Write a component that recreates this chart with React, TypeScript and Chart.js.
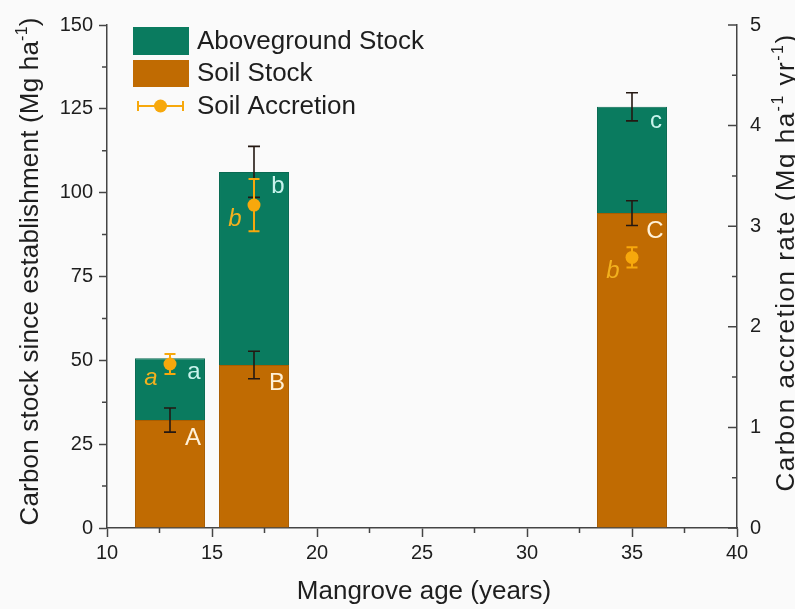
import React, { useEffect, useRef } from "react";
import { Chart, registerables } from "chart.js";

Chart.register(...registerables);

// ---------- data ----------
const ages = [13, 17, 35];
const soilStock = [32.2, 48.6, 93.9];
const soilStockErr = [3.6, 4.1, 3.7];
const abovegroundStock = [18.4, 57.6, 31.7];
const totalStockErr: (number | null)[] = [null, 7.6, 4.2];
const soilAccretion = [1.63, 3.21, 2.69];
const soilAccretionErr = [0.1, 0.26, 0.1];
const soilLetters = ["A", "B", "C"];
const abovegroundLetters = ["a", "b", "c"];
const accretionLetters = ["a", "b", "b"];
const legendLabels = ["Aboveground Stock", "Soil Stock", "Soil Accretion"];
const xTitle = [{ t: "Mangrove age (years)" }];
const yTitle = [{ t: "Carbon stock since establishment (Mg ha" }, { t: "-1", sup: true }, { t: ")" }];
const y1Title = [
  { t: "Carbon accretion rate (Mg ha" },
  { t: "-1", sup: true },
  { t: " yr" },
  { t: "-1", sup: true },
  { t: ")" },
];

// ---------- style ----------
const GREEN = "#0a7b5f";
const BROWN = "#c06b02";
const ORANGE = "#f7a80c";
const AXIS = "#444444";
const TEXT = "#1e1e1e";
const FONT = "'Liberation Sans', Arial, Helvetica, sans-serif";

type Part = { t: string; sup?: boolean };

function drawRich(
  ctx: CanvasRenderingContext2D,
  parts: Part[],
  x: number,
  y: number,
  rot: number,
  size: number,
  spacing = 0
) {
  ctx.save();
  ctx.translate(x, y);
  ctx.rotate(rot);
  ctx.fillStyle = TEXT;
  ctx.textBaseline = "alphabetic";
  ctx.textAlign = "left";
  (ctx as any).letterSpacing = `${spacing}px`;
  const supSize = Math.round(size * 0.62);
  let total = 0;
  const widths = parts.map((p) => {
    ctx.font = `${p.sup ? supSize : size}px ${FONT}`;
    const w = ctx.measureText(p.t).width;
    total += w;
    return w;
  });
  let cx = -total / 2;
  parts.forEach((p, i) => {
    ctx.font = `${p.sup ? supSize : size}px ${FONT}`;
    ctx.fillText(p.t, cx, p.sup ? -size * 0.42 : 0);
    cx += widths[i];
  });
  ctx.restore();
}

const overlay = {
  id: "overlay",
  beforeDatasetDraw(chart: any, args: any) {
    if (args.index !== 2) return;
    const { ctx } = chart;
    const xs = chart.scales.x;
    const ys = chart.scales.y;
    const y1 = chart.scales.y1;
    ctx.save();
    ctx.strokeStyle = "#241812";
    ctx.lineWidth = 1.6;
    const bar = (px: number, lo: number, hi: number, cap: number) => {
      ctx.beginPath();
      ctx.moveTo(px, lo);
      ctx.lineTo(px, hi);
      ctx.moveTo(px - cap, lo);
      ctx.lineTo(px + cap, lo);
      ctx.moveTo(px - cap, hi);
      ctx.lineTo(px + cap, hi);
      ctx.stroke();
    };
    ages.forEach((a, i) => {
      const px = xs.getPixelForValue(a);
      bar(px, ys.getPixelForValue(soilStock[i] - soilStockErr[i]), ys.getPixelForValue(soilStock[i] + soilStockErr[i]), 6);
      const e = totalStockErr[i];
      if (e != null) {
        const tot = soilStock[i] + abovegroundStock[i];
        bar(px, ys.getPixelForValue(tot - e), ys.getPixelForValue(tot + e), 6);
      }
    });
    ctx.strokeStyle = ORANGE;
    ctx.lineWidth = 2;
    ages.forEach((a, i) => {
      const px = xs.getPixelForValue(a);
      bar(
        px,
        y1.getPixelForValue(soilAccretion[i] - soilAccretionErr[i]),
        y1.getPixelForValue(soilAccretion[i] + soilAccretionErr[i]),
        5.5
      );
    });
    ctx.restore();
  },
  afterDraw(chart: any) {
    const { ctx, chartArea } = chart;
    const xs = chart.scales.x;
    const ys = chart.scales.y;
    const y1 = chart.scales.y1;
    ctx.save();
    // letters
    ctx.textAlign = "center";
    ctx.textBaseline = "alphabetic";
    ages.forEach((a, i) => {
      const px = xs.getPixelForValue(a);
      ctx.font = `24px ${FONT}`;
      ctx.fillStyle = "#c9f3ec";
      ctx.fillText(abovegroundLetters[i], px + 24, ys.getPixelForValue(soilStock[i] + abovegroundStock[i]) + 21);
      ctx.fillStyle = "#fff1d8";
      ctx.fillText(soilLetters[i], px + 23, ys.getPixelForValue(soilStock[i]) + 25);
      ctx.font = `italic 24px ${FONT}`;
      ctx.fillStyle = "#f2b11e";
      ctx.fillText(accretionLetters[i], px - 19, y1.getPixelForValue(soilAccretion[i]) + 21);
    });

    // minor ticks + right-axis ticks (inward)
    ctx.strokeStyle = AXIS;
    ctx.lineWidth = 1.5;
    ctx.beginPath();
    for (let v = 12.5; v < 150; v += 25) {
      const py = ys.getPixelForValue(v);
      ctx.moveTo(chartArea.left, py);
      ctx.lineTo(chartArea.left - 5, py);
    }
    for (let v = 12.5; v < 40; v += 5) {
      const px = xs.getPixelForValue(v);
      ctx.moveTo(px, chartArea.bottom);
      ctx.lineTo(px, chartArea.bottom + 5);
    }
    for (let v = 0; v <= 5; v += 0.5) {
      const py = y1.getPixelForValue(v);
      const major = Math.abs(v - Math.round(v)) < 1e-6;
      ctx.moveTo(chartArea.right, py);
      ctx.lineTo(chartArea.right - (major ? 9 : 5), py);
    }
    ctx.stroke();

    // legend
    const lx = chartArea.left + 26;
    const ly = chartArea.top + 2;
    ctx.fillStyle = GREEN;
    ctx.fillRect(lx, ly, 56, 28);
    ctx.fillStyle = BROWN;
    ctx.fillRect(lx, ly + 33, 56, 27);
    ctx.strokeStyle = ORANGE;
    ctx.lineWidth = 2;
    const sy = ly + 79;
    ctx.beginPath();
    ctx.moveTo(lx + 5, sy);
    ctx.lineTo(lx + 50, sy);
    ctx.moveTo(lx + 5, sy - 5);
    ctx.lineTo(lx + 5, sy + 5);
    ctx.moveTo(lx + 50, sy - 5);
    ctx.lineTo(lx + 50, sy + 5);
    ctx.stroke();
    ctx.fillStyle = ORANGE;
    ctx.beginPath();
    ctx.arc(lx + 27.5, sy, 6.5, 0, Math.PI * 2);
    ctx.fill();
    ctx.fillStyle = TEXT;
    ctx.font = `26px ${FONT}`;
    ctx.textAlign = "left";
    ctx.textBaseline = "middle";
    ctx.fillText(legendLabels[0], lx + 64, ly + 15);
    ctx.fillText(legendLabels[1], lx + 64, ly + 47);
    ctx.fillText(legendLabels[2], lx + 64, sy + 1);

    // axis titles
    drawRich(ctx, xTitle, (chartArea.left + chartArea.right) / 2 + 2, 599, 0, 26);
    drawRich(ctx, yTitle, 38, (chartArea.top + chartArea.bottom) / 2 - 5, -Math.PI / 2, 26, 0.2);
    drawRich(ctx, y1Title, 794, (chartArea.top + chartArea.bottom) / 2 - 14, -Math.PI / 2, 26, 1.5);
    ctx.restore();
  },
};

export default function App() {
  const ref = useRef<HTMLCanvasElement | null>(null);
  useEffect(() => {
    if (!ref.current) return;
    const tickFont = { family: FONT, size: 20 };
    const chart = new Chart(ref.current, {
      type: "bar",
      data: {
        datasets: [
          {
            type: "bar",
            label: "Soil Stock",
            data: ages.map((x, i) => ({ x, y: soilStock[i] })),
            backgroundColor: BROWN,
            borderColor: "#a95d00",
            borderWidth: 1,
            stack: "s",
            order: 2,
            categoryPercentage: 1,
            barPercentage: 0.833,
            yAxisID: "y",
          },
          {
            type: "bar",
            label: "Aboveground Stock",
            data: ages.map((x, i) => ({ x, y: abovegroundStock[i] })),
            backgroundColor: GREEN,
            borderColor: "#096a52",
            borderWidth: 1,
            stack: "s",
            order: 2,
            categoryPercentage: 1,
            barPercentage: 0.833,
            yAxisID: "y",
          },
          {
            type: "scatter",
            label: "Soil Accretion",
            data: ages.map((x, i) => ({ x, y: soilAccretion[i] })),
            backgroundColor: ORANGE,
            borderColor: ORANGE,
            pointRadius: 6.5,
            borderWidth: 0,
            order: 0,
            yAxisID: "y1",
          },
        ],
      } as any,
      options: {
        animation: false,
        responsive: true,
        maintainAspectRatio: false,
        layout: { padding: { top: 20, left: 0, right: 0, bottom: 0 } },
        plugins: { legend: { display: false }, tooltip: { enabled: false } },
        scales: {
          x: {
            type: "linear",
            min: 10,
            max: 40,
            stacked: true,
            offset: false,
            ticks: { stepSize: 5, font: tickFont, color: TEXT, padding: 4, maxRotation: 0 },
            grid: { drawOnChartArea: false, offset: false, tickLength: 9, color: AXIS, tickWidth: 1.5 },
            border: { color: AXIS, width: 1.5 },
            afterFit: (s: any) => {
              s.height = 81;
            },
          },
          y: {
            position: "left",
            min: 0,
            max: 150,
            stacked: true,
            ticks: { stepSize: 25, font: tickFont, color: TEXT, padding: 6 },
            grid: { drawOnChartArea: false, tickLength: 8, color: AXIS, tickWidth: 1.5 },
            border: { color: AXIS, width: 1.5 },
            afterFit: (s: any) => {
              s.width = 107;
            },
          },
          y1: {
            position: "right",
            min: 0,
            max: 5,
            ticks: { stepSize: 1, font: tickFont, color: TEXT, padding: 13 },
            grid: { drawOnChartArea: false, drawTicks: false },
            border: { color: AXIS, width: 1.5 },
            afterFit: (s: any) => {
              s.width = 58;
            },
          },
        },
      } as any,
      plugins: [overlay],
    });
    return () => chart.destroy();
  }, []);

  return (
    <div style={{ position: "fixed", left: 0, top: 0, width: 795, height: 609, background: "#fafafa" }}>
      <canvas ref={ref} />
    </div>
  );
}
